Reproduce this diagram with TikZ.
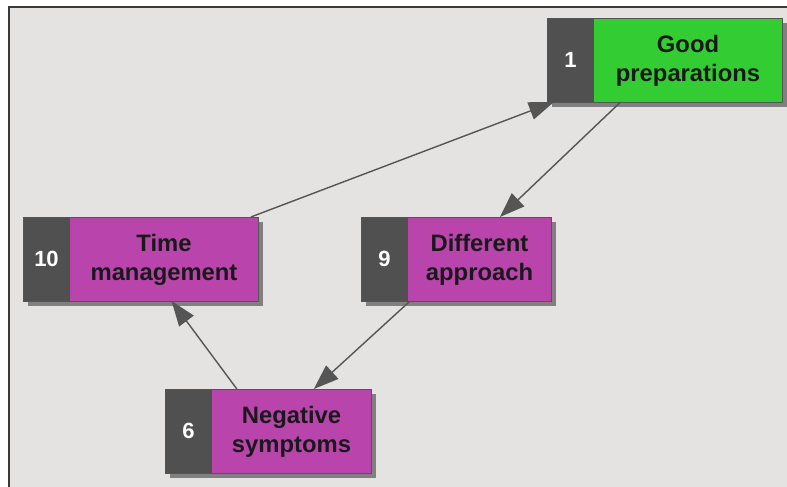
\documentclass[tikz,border=0pt]{standalone}
\usepackage{fontspec}
\setmainfont{Liberation Sans}
\usetikzlibrary{arrows.meta,shadows,calc}

\definecolor{canvasgray}{HTML}{E4E3E2}
\definecolor{framegray}{HTML}{3A3A3A}
\definecolor{tabgray}{HTML}{505050}
\definecolor{edgegray}{HTML}{555555}
\definecolor{shadowgray}{HTML}{808080}
\definecolor{goalgreen}{HTML}{33CC33}
\definecolor{issuemagenta}{HTML}{B944AC}

\tikzset{
  cbox/.style={draw=edgegray, line width=0.8bp, minimum height=84bp,
    inner sep=0pt, outer sep=0pt,
    drop shadow={shadow xshift=5bp, shadow yshift=-5bp, fill=shadowgray, opacity=1},
    path picture={\fill[tabgray] (path picture bounding box.north west)
      rectangle ([xshift=47bp]path picture bounding box.south west);}},
  numtext/.style={text=white, font=\bfseries\fontsize{22bp}{26bp}\selectfont, inner sep=0pt},
  lbltext/.style={text=black!90, align=center, font=\bfseries\fontsize{23.8bp}{29bp}\selectfont, inner sep=0pt},
  conn/.style={draw=edgegray, line width=1.4bp,
    -{Triangle[length=25bp, width=18bp]}, shorten >=0pt}
}

\begin{document}
\begin{tikzpicture}[x=1bp, y=-1bp]
  \useasboundingbox (0,0) rectangle (787,487);
  \fill[white] (0,0) rectangle (787,487);
  \fill[canvasgray] (9,7) rectangle (787,487);
  \draw[framegray, line width=1.5bp] (9,487) -- (9,7) -- (787,7);

  % boxes: a dark number tab on the left, the coloured label area on the right
  \node[cbox, fill=goalgreen, minimum width=235bp] (b1) at (664.5,60) {};
  \node[cbox, fill=issuemagenta, minimum width=235bp] (b10) at (140.5,259) {};
  \node[cbox, fill=issuemagenta, minimum width=190bp] (b9) at (456,259) {};
  \node[cbox, fill=issuemagenta, minimum width=206bp] (b6) at (268,431) {};

  % numbers in the tabs
  \node[numtext] (b1n)  at ($(b1.west)+(23.5,0)$)  {1};
  \node[numtext] (b10n) at ($(b10.west)+(23.5,0)$) {10};
  \node[numtext] (b9n)  at ($(b9.west)+(23.5,0)$)  {9};
  \node[numtext] (b6n)  at ($(b6.west)+(23.5,0)$)  {6};

  % labels
  \node[lbltext] (b1t)  at ($(b1.center)+(23.5,1)$)  {Good\\preparations};
  \node[lbltext] (b10t) at ($(b10.center)+(23.5,1)$) {Time\\management};
  \node[lbltext] (b9t)  at ($(b9.center)+(23.5,1)$)  {Different\\approach};
  \node[lbltext] (b6t)  at ($(b6.center)+(23.5,1)$)  {Negative\\symptoms};

  % connectors
  \draw[conn] (b10) -- (b1);
  \draw[conn] (b1) -- (b9);
  \draw[conn] (b9) -- (b6);
  \draw[conn] (b6) -- (b10);
\end{tikzpicture}
\end{document}
